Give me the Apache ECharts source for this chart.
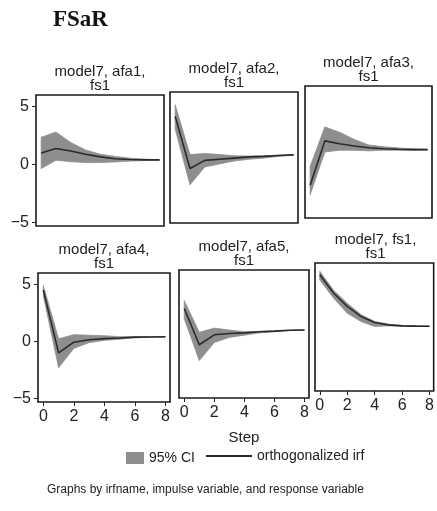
<!DOCTYPE html>
<html><head><meta charset="utf-8">
<script src="https://cdn.jsdelivr.net/npm/echarts@6/dist/echarts.min.js"></script>
<style>html,body{margin:0;padding:0;background:#fff}#c{width:437px;height:511px}</style>
</head><body><div id="c"></div>
<script>
var steps = [0,1,2,3,4,5,6,7,8];
var panelTitles = ['model7, afa1,\nfs1','model7, afa2,\nfs1','model7, afa3,\nfs1','model7, afa4,\nfs1','model7, afa5,\nfs1','model7, fs1,\nfs1'];
var irf1 = [1.0,1.38,1.17,0.89,0.66,0.5,0.43,0.4,0.4];
var up1  = [2.35,2.8,1.9,1.26,0.89,0.7,0.55,0.47,0.42];
var lo1  = [-0.35,0.37,0.25,0.17,0.17,0.23,0.3,0.35,0.38];
var irf2 = [3.9,-0.6,0.1,0.2,0.3,0.4,0.45,0.52,0.58];
var up2  = [4.9,0.6,0.7,0.6,0.5,0.47,0.5,0.55,0.6];
var lo2  = [2.8,-2.0,-0.47,-0.2,0.05,0.2,0.3,0.45,0.55];
var irf3 = [-2.5,1.3,1.05,0.86,0.71,0.63,0.58,0.55,0.55];
var up3  = [-0.9,2.5,2.05,1.43,0.95,0.8,0.7,0.62,0.58];
var lo3  = [-3.3,0.35,0.5,0.5,0.45,0.5,0.5,0.5,0.52];
var irf4 = [4.5,-1.0,-0.06,0.15,0.25,0.3,0.38,0.4,0.41];
var up4  = [4.9,0.23,0.6,0.55,0.5,0.42,0.42,0.42,0.42];
var lo4  = [4.0,-2.3,-0.6,-0.1,0.1,0.2,0.32,0.38,0.4];
var irf5 = [2.6,-0.6,0.28,0.4,0.45,0.55,0.6,0.68,0.7];
var up5  = [3.3,0.5,0.87,0.7,0.55,0.58,0.62,0.68,0.7];
var lo5  = [1.7,-2.0,-0.4,0.05,0.25,0.45,0.55,0.65,0.7];
var irf6 = [4.97,3.35,2.17,1.28,0.75,0.54,0.45,0.43,0.42];
var up6  = [5.27,3.6,2.45,1.45,0.84,0.6,0.48,0.45,0.43];
var lo6  = [4.5,2.9,1.57,0.84,0.4,0.45,0.42,0.42,0.41];
var yTicks = [-5,0,5];
var xTicks = [0,2,4,6,8];

var irfs=[irf1,irf2,irf3,irf4,irf5,irf6], ups=[up1,up2,up3,up4,up5,up6], los=[lo1,lo2,lo3,lo4,lo5,lo6];
var grids=[
 {left:36,top:95,width:128,height:131},
 {left:170,top:92,width:128,height:131},
 {left:305,top:86,width:127,height:132},
 {left:38,top:273,width:132,height:129},
 {left:179,top:270,width:130,height:128},
 {left:315,top:263,width:121,height:128}
];
var font='Liberation Sans, Arial, sans-serif';
var bandColor='#8e8e8e';
var option={animation:false,backgroundColor:'#fff',grid:[],xAxis:[],yAxis:[],series:[],graphic:[]};
function bandRender(params, api){
  if(params.dataIndex!==0) return null;
  var n=params.dataInsideLength, top=[], bot=[];
  for(var j=0;j<n;j++){
    top.push(api.coord([api.value(0,j),api.value(2,j)]));
    bot.unshift(api.coord([api.value(0,j),api.value(1,j)]));
  }
  return {type:'polygon',shape:{points:top.concat(bot)},style:{fill:bandColor,stroke:bandColor,lineWidth:0.8}};
}
grids.forEach(function(g,i){
  option.grid.push({left:g.left,top:g.top,width:g.width,height:g.height,show:true,borderColor:'#1a1a1a',borderWidth:1.6,backgroundColor:'#fff'});
  var bottomRow=i>=3, leftCol=(i%3===0);
  option.xAxis.push({type:'value',gridIndex:i,min:-0.35,max:8.3,position:'bottom',
    axisLine:{show:false,onZero:false},splitLine:{show:false},
    axisTick:{show:bottomRow,customValues:xTicks,length:4,lineStyle:{color:'#222'}},
    axisLabel:{show:bottomRow,customValues:xTicks,color:'#222',fontSize:16,fontFamily:font,margin:7},
    name:i===4?'Step':'',nameLocation:'middle',nameGap:32,nameTextStyle:{color:'#222',fontSize:15,fontFamily:font}});
  option.yAxis.push({type:'value',gridIndex:i,min:-5.3,max:6,position:'left',
    axisLine:{show:false,onZero:false},splitLine:{show:false},
    axisTick:{show:leftCol,customValues:yTicks,length:4,lineStyle:{color:'#222'}},
    axisLabel:{show:leftCol,customValues:yTicks,color:'#222',fontSize:16,fontFamily:font,margin:7,
      formatter:function(v){return String(v).replace('-','\u2212');}}});
  option.series.push({type:'custom',name:'95% CI',xAxisIndex:i,yAxisIndex:i,renderItem:bandRender,
    itemStyle:{color:bandColor},encode:{x:0,y:[1,2]},
    data:steps.map(function(s,k){return [s,los[i][k],ups[i][k]];})});
  option.series.push({type:'line',name:'orthogonalized irf',xAxisIndex:i,yAxisIndex:i,data:steps.map(function(s,k){return [s,irfs[i][k]];}),symbol:'none',lineStyle:{color:'#2a2a2a',width:1.6},itemStyle:{color:'#2a2a2a'}});
  option.graphic.push({type:'text',x:g.left+g.width/2,y:g.top-30,style:{text:panelTitles[i],textAlign:'center',fill:'#222',font:'15px '+font,lineHeight:14}});
});
option.legend=[
 {data:[{name:'95% CI',icon:'rect'}],top:446,left:121,itemWidth:18,itemHeight:12,
  textStyle:{color:'#222',fontSize:14,fontFamily:font}},
 {data:[{name:'orthogonalized irf',itemStyle:{opacity:0}}],top:444,left:200,itemWidth:46,itemHeight:12,itemGap:8,
  textStyle:{color:'#222',fontSize:14,fontFamily:font}}
];
option.title=[
 {text:'FSaR',left:48,top:4,textStyle:{fontFamily:'Liberation Serif, Times New Roman, serif',fontWeight:'bold',fontSize:23,color:'#111'}},
 {text:'Graphs by irfname, impulse variable, and response variable',left:42,top:479,textStyle:{fontFamily:font,fontWeight:'normal',fontSize:12,color:'#222'}}
];
var chart=echarts.init(document.getElementById('c'));
chart.setOption(option);
</script></body></html>
